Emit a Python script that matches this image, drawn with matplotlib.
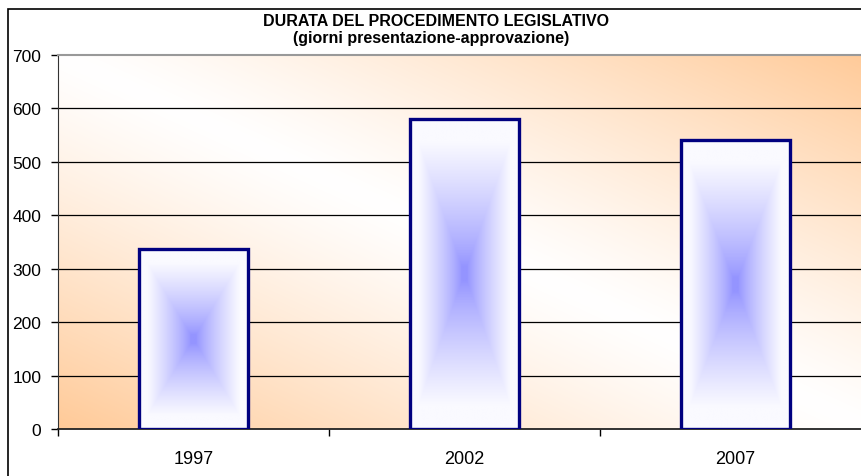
import matplotlib
matplotlib.use("Agg")
import matplotlib.pyplot as plt
from matplotlib.patches import Rectangle
import numpy as np

plt.rcParams['font.family'] = ['Liberation Sans', 'DejaVu Sans']

# data
anni = ['1997', '2002', '2007']
giorni = [336, 581, 540]
titolo1 = 'DURATA DEL PROCEDIMENTO LEGISLATIVO'
titolo2 = '(giorni presentazione-approvazione)'
y_ticks = [0, 100, 200, 300, 400, 500, 600, 700]

W, H = 862, 477
fig = plt.figure(figsize=(W / 100, H / 100), dpi=100)
# plot area runs past the right edge of the picture (the original is cropped)
ax = fig.add_axes([58 / W, 1 - 430 / H, 813 / W, 374 / H])

# outer chart border (also cropped on the right and bottom)
fig.patches.append(Rectangle((8 / W, -0.05), 1.0, 1 - 10 / H + 0.05,
                             transform=fig.transFigure, fill=False,
                             edgecolor='black', linewidth=1.2))

# background gradient: orange in bottom-left and top-right, white on the other diagonal
n = 400
u, v = np.meshgrid(np.linspace(0, 1, n), np.linspace(0, 1, n))
t = np.clip(np.abs(u + v - 1), 0, 1) ** 1.2
orange = np.array([255, 202, 152]) / 255
white = np.array([255, 255, 255]) / 255
bg = white[None, None, :] * (1 - t[..., None]) + orange[None, None, :] * t[..., None]
ax.imshow(bg, extent=(0, 1, 0, 1), transform=ax.transAxes, origin='lower',
          aspect='auto', zorder=0)

x = np.arange(len(anni))

for yy in y_ticks[1:-1]:
    ax.axhline(yy, color='black', linewidth=0.9, zorder=1)

bars = ax.bar(x, giorni, width=0.40, facecolor='none', edgecolor='#000080',
              linewidth=2.4, zorder=3)

# bar fill: rectangular gradient, blue at centre, white at the edges
blue = np.array([148, 148, 255]) / 255
edge_col = np.array([250, 250, 255]) / 255
for b in bars:
    bx, bw, bh = b.get_x(), b.get_width(), b.get_height()
    gx, gy = np.meshgrid(np.linspace(-1, 1, 200), np.linspace(-1, 1, 200))
    d = np.maximum(np.abs(gx), np.abs(gy))
    s = np.clip((d - 0.05) / 0.8, 0, 1) ** 0.8
    img = blue[None, None, :] * (1 - s[..., None]) + edge_col[None, None, :] * s[..., None]
    ax.imshow(img, extent=(bx, bx + bw, 0, bh), origin='lower',
              aspect='auto', zorder=2)

ax.set_xlim(-0.5, len(anni) - 0.5)
ax.set_ylim(0, 700)

ax.set_xticks(x)
ax.set_xticklabels(anni, fontsize=13)
ax.set_xticks(np.arange(len(anni) + 1) - 0.5, minor=True)
ax.tick_params(axis='x', which='major', length=0, pad=15)
ax.tick_params(axis='x', which='minor', length=5, width=1, direction='out')
ax.set_yticks(y_ticks)
ax.tick_params(axis='y', labelsize=12.5, length=5, width=1, direction='out', pad=7)

ax.spines['right'].set_visible(False)
ax.spines['top'].set_color('#999999')
ax.spines['top'].set_linewidth(1.5)
ax.spines['left'].set_color('#333333')
ax.spines['bottom'].set_color('#222222')
ax.spines['bottom'].set_linewidth(1.3)

fig.text(436 / W, 1 - 22 / H, titolo1, ha='center', va='center',
         fontsize=11.5, fontweight='bold')
fig.text(431 / W, 1 - 39 / H, titolo2, ha='center', va='center',
         fontsize=11.5, fontweight='bold')

fig.savefig('out.png', dpi=100)
